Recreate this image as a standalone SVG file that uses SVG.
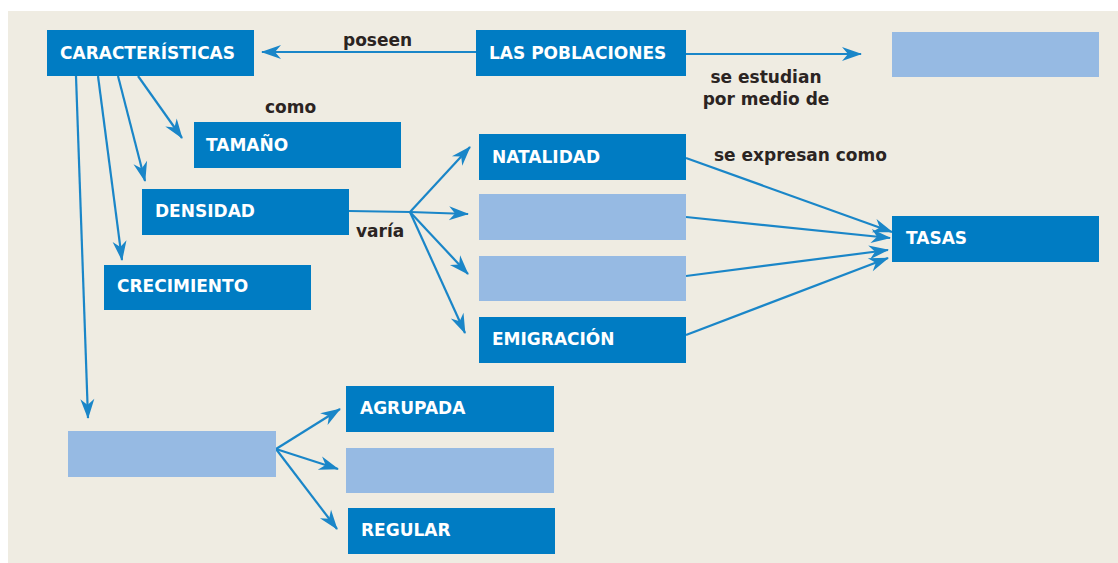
<svg xmlns="http://www.w3.org/2000/svg" width="1118" height="563" viewBox="0 0 1118 563">
<style>
.dark{fill:#007cc3}
.light{fill:#96bae3}
.nt{font-family:"DejaVu Sans",sans-serif;font-weight:bold;font-size:17px;fill:#ffffff}
.lb{font-family:"DejaVu Sans",sans-serif;font-weight:bold;font-size:17px;fill:#2b2422}
.c{stroke:#1a86c8;stroke-width:2.2;fill:none;marker-end:url(#ah)}
</style>
<defs>
<marker id="ah" markerUnits="userSpaceOnUse" viewBox="-21 -9 23 18" refX="0" refY="0" markerWidth="23" markerHeight="18" orient="auto">
<path d="M1,0 L-19,-7 L-13,0 L-19,7 Z" fill="#1a86c8"/>
</marker>
</defs>
<rect x="0" y="0" width="1118" height="563" fill="#ffffff"/>
<rect x="8" y="11" width="1110" height="552" fill="#efece2"/>

<g id="connectors">
<line class="c" x1="476" y1="52" x2="262" y2="52"/>
<line class="c" x1="686" y1="54" x2="861" y2="54"/>
<line class="c" x1="138" y1="76" x2="182" y2="138"/>
<line class="c" x1="118" y1="76" x2="145" y2="181"/>
<line class="c" x1="98" y1="76" x2="122" y2="260"/>
<line class="c" x1="76" y1="76" x2="88" y2="418"/>
<line x1="349" y1="211" x2="410" y2="212" stroke="#1a86c8" stroke-width="2.2"/>
<line class="c" x1="410" y1="212" x2="470" y2="147"/>
<line class="c" x1="410" y1="212" x2="468" y2="214"/>
<line class="c" x1="410" y1="212" x2="468" y2="274"/>
<line class="c" x1="410" y1="212" x2="465" y2="333"/>
<line class="c" x1="686" y1="158" x2="892" y2="232"/>
<line class="c" x1="686" y1="217" x2="890" y2="238"/>
<line class="c" x1="686" y1="276" x2="888" y2="250"/>
<line class="c" x1="686" y1="335" x2="888" y2="258"/>
<line class="c" x1="276" y1="449" x2="340" y2="409"/>
<line class="c" x1="276" y1="449" x2="338" y2="469"/>
<line class="c" x1="276" y1="449" x2="337" y2="529"/>
</g>

<g id="labels">
<text class="lb" x="343" y="46">poseen</text>
<text class="lb" x="265" y="113">como</text>
<text class="lb" x="766" y="83" text-anchor="middle">se estudian</text>
<text class="lb" x="766" y="105" text-anchor="middle">por medio de</text>
<text class="lb" x="356" y="237">varía</text>
<text class="lb" x="714" y="161">se expresan como</text>
</g>

<g id="caracteristicas"><rect class="dark" x="47" y="30" width="207" height="46"/><text class="nt" x="60" y="59">CARACTERÍSTICAS</text></g>
<g id="poblaciones"><rect class="dark" x="476" y="30" width="210" height="46"/><text class="nt" x="489" y="59">LAS POBLACIONES</text></g>
<g id="blank-top"><rect class="light" x="892" y="32" width="207" height="45"/></g>
<g id="tamano"><rect class="dark" x="194" y="122" width="207" height="46"/><text class="nt" x="206" y="151">TAMAÑO</text></g>
<g id="densidad"><rect class="dark" x="142" y="189" width="207" height="46"/><text class="nt" x="155" y="217">DENSIDAD</text></g>
<g id="crecimiento"><rect class="dark" x="104" y="265" width="207" height="45"/><text class="nt" x="117" y="292">CRECIMIENTO</text></g>
<g id="natalidad"><rect class="dark" x="479" y="134" width="207" height="46"/><text class="nt" x="492" y="163">NATALIDAD</text></g>
<g id="blank-2"><rect class="light" x="479" y="194" width="207" height="46"/></g>
<g id="blank-3"><rect class="light" x="479" y="256" width="207" height="45"/></g>
<g id="emigracion"><rect class="dark" x="479" y="317" width="207" height="46"/><text class="nt" x="492" y="345">EMIGRACIÓN</text></g>
<g id="tasas"><rect class="dark" x="892" y="216" width="207" height="46"/><text class="nt" x="906" y="244">TASAS</text></g>
<g id="blank-bottom"><rect class="light" x="68" y="431" width="208" height="46"/></g>
<g id="agrupada"><rect class="dark" x="346" y="386" width="208" height="46"/><text class="nt" x="360" y="414">AGRUPADA</text></g>
<g id="blank-mid"><rect class="light" x="346" y="448" width="208" height="45"/></g>
<g id="regular"><rect class="dark" x="348" y="508" width="207" height="46"/><text class="nt" x="361" y="536">REGULAR</text></g>
</svg>
